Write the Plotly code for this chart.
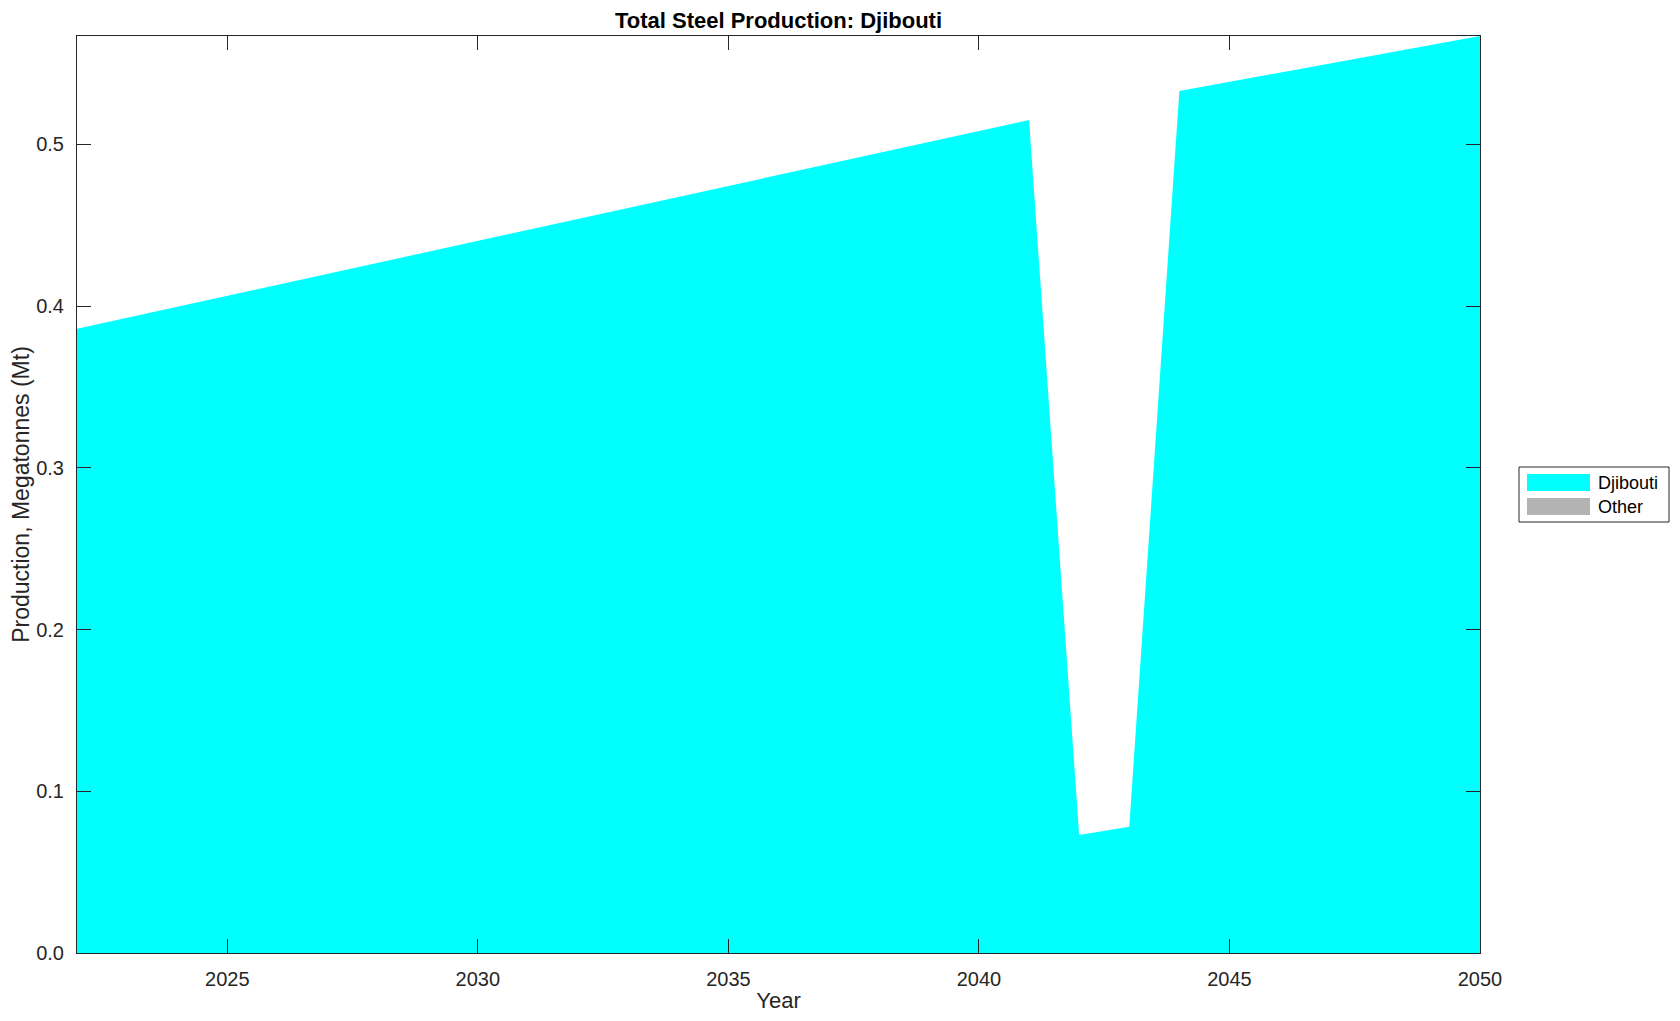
import plotly.graph_objects as go

years = list(range(2022, 2051))
djibouti = [0.386, 0.3928, 0.3996, 0.4064, 0.4132, 0.4200, 0.4267, 0.4335, 0.4403, 0.4471,
            0.4539, 0.4607, 0.4675, 0.4743, 0.4811, 0.4879, 0.4946, 0.5014, 0.5082, 0.515,
            0.073, 0.078, 0.533, 0.5387, 0.5443, 0.5500, 0.5557, 0.5613, 0.567]
other = [0.0] * len(years)

series_names = ["Djibouti", "Other"]
series_colors = ["#00ffff", "#b3b3b3"]

x_ticks = [2025, 2030, 2035, 2040, 2045, 2050]
y_ticks = [0.0, 0.1, 0.2, 0.3, 0.4, 0.5]

FONT = "Liberation Sans, Arial, Helvetica, sans-serif"
INK = "#262626"

# page has an 8px body margin, so the figure is sized to fit inside the window
W, H = 1664, 1005
PL, PR, PT, PB = 77, 1480, 36, 953   # plot box in page pixels
OFF = 8
pw, ph = PR - PL, PB - PT


def px(x):
    return (x - PL) / pw


def py(y):
    return (PB - y) / ph


fig = go.Figure()
for vals, name, col in zip([djibouti, other], series_names, series_colors):
    fig.add_trace(go.Scatter(x=years, y=vals, name=name, mode="lines", fill="tozeroy",
                             line=dict(width=0, color=col), fillcolor=col, showlegend=False))

axis_common = dict(showline=True, linecolor=INK, linewidth=1, mirror="ticks",
                   ticks="inside", ticklen=14, tickcolor=INK, showgrid=False,
                   zeroline=False, ticklabelstandoff=8, automargin=False,
                   tickfont=dict(size=20, color=INK, family=FONT))

fig.update_xaxes(range=[2022, 2050], tickvals=x_ticks,
                 title=dict(text="Year", standoff=4, font=dict(size=22, color=INK, family=FONT)),
                 **axis_common)
fig.update_yaxes(range=[0, 0.567], tickvals=y_ticks, tickformat=".1f",
                 title=dict(text="Production, Megatonnes (Mt)", standoff=4,
                            font=dict(size=23, color=INK, family=FONT)),
                 **axis_common)

annotations = []
# MATLAB-style legend box drawn by hand
shapes = [dict(type="rect", xref="paper", yref="paper", x0=px(1519), x1=px(1669),
               y0=py(522), y1=py(467), line=dict(color=INK, width=1), fillcolor="white")]
for i, (name, col) in enumerate(zip(series_names, series_colors)):
    top = 474 + i * 24
    shapes.append(dict(type="rect", xref="paper", yref="paper", x0=px(1527), x1=px(1590),
                       y0=py(top + 17), y1=py(top), line=dict(width=0), fillcolor=col))
    annotations.append(dict(text=name, x=px(1596), y=py(top + 9), xref="paper", yref="paper",
                            xanchor="left", yanchor="middle", showarrow=False,
                            font=dict(size=18, color="black", family=FONT)))

fig.update_layout(
    width=W, height=H,
    margin=dict(l=PL - OFF, r=W + OFF - PR, t=PT - OFF, b=H + OFF - PB),
    paper_bgcolor="white", plot_bgcolor="white",
    title=dict(text="<b>Total Steel Production: Djibouti</b>", xref="paper", x=0.5,
               xanchor="center", yref="container", y=1 - (20 - OFF) / H, yanchor="middle",
               font=dict(size=22, color="black", family=FONT)),
    annotations=annotations, shapes=shapes,
    showlegend=False,
)

fig.write_html("out.html")
